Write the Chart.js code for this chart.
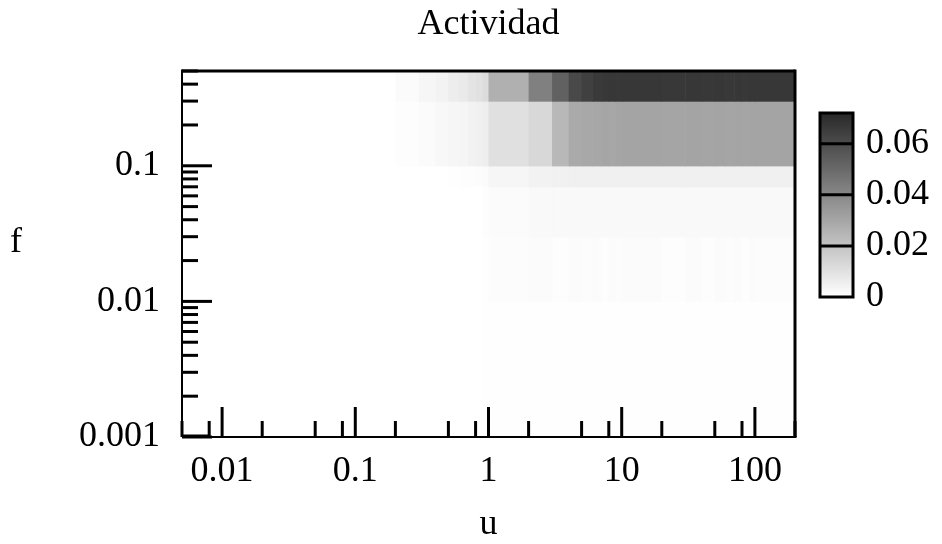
<!DOCTYPE html>
<html>
<head>
<meta charset="utf-8">
<title>Actividad</title>
<script src="https://cdn.jsdelivr.net/npm/chart.js@4.4.1/dist/chart.umd.min.js"></script>
<style>
  html, body { margin: 0; padding: 0; background: #fff; }
  #wrap { width: 942px; height: 544px; }
</style>
</head>
<body>
<div id="wrap"><canvas id="actividad"></canvas></div>
<script>
// cell edges along u (x) and f (y)
const uEdges = [
    0.005, 0.01, 0.02, 0.03, 0.04, 0.05, 0.06, 0.07, 0.08, 0.09,
    0.1, 0.2, 0.3, 0.4, 0.5, 0.6, 0.7, 0.8, 0.9,
    1, 2, 3, 4, 5, 6, 7, 8, 9,
    10, 20, 30, 40, 50, 60, 70, 80, 90,
    100, 200
];
const fEdges = [0.001, 0.01, 0.03, 0.07, 0.1, 0.3, 0.5];

// actividad per row (f band, bottom to top), one value per u cell
const rowF0 = [0,0,0,0,0,0,0,0,0,0, 0,0,0,0,0,0,0,0,0.0003,
    0.0005,0.0005,0.0005,0.0005,0.0005,0.0005,0.0005,0.0005,0.0005,
    0.0005,0.0005,0.0005,0.0005,0.0005,0.0005,0.0005,0.0005,0.0005, 0.0005];
const rowF1 = [0,0,0,0,0,0,0,0,0,0, 0,0,0,0,0,0,0,0,0.0004,
    0.0009,0.0012,0.0008,0.0012,0.0009,0.0012,0.0008,0.0012,0.0009,
    0.0012,0.0008,0.0012,0.0008,0.0012,0.0009,0.0012,0.0008,0.0012, 0.0009];
const rowF2 = [0,0,0,0,0,0,0,0,0,0, 0,0,0,0,0,0,0,0,0.0006,
    0.0015,0.002,0.002,0.002,0.002,0.002,0.002,0.002,0.002,
    0.002,0.002,0.002,0.002,0.002,0.002,0.002,0.002,0.002, 0.002];
const rowF3 = [0,0,0,0,0,0,0,0,0,0, 0,0,0,0,0.0004,0.0006,0.0008,0.001,0.0012,
    0.003,0.0045,0.0048,0.005,0.005,0.005,0.005,0.005,0.005,
    0.005,0.005,0.005,0.005,0.005,0.005,0.005,0.005,0.005, 0.005];
const rowF4 = [0,0,0,0,0,0,0,0,0,0, 0,0.0007,0.0015,0.0025,0.003,0.0035,0.0045,0.005,0.0057,
    0.0104,0.013,0.0238,0.0285,0.029,0.0295,0.03,0.0295,0.03,
    0.0305,0.03,0.0305,0.03,0.0305,0.03,0.0305,0.03,0.0305, 0.0305];
const rowF5 = [0,0,0,0,0,0,0,0,0,0, 0,0.0015,0.003,0.004,0.006,0.007,0.009,0.01,0.0117,
    0.0265,0.0425,0.053,0.061,0.064,0.066,0.0665,0.067,0.0665,
    0.067,0.0668,0.067,0.0665,0.067,0.0668,0.067,0.0665,0.067, 0.067];
const actividad = [rowF0, rowF1, rowF2, rowF3, rowF4, rowF5];

const uTicks = [0.01, 0.1, 1, 10, 100];
const fTicks = [0.001, 0.01, 0.1];
const barTicks = [0, 0.02, 0.04, 0.06];
const barMax = 0.072;

// layout
const FONT = "'Liberation Serif', 'Times New Roman', serif";
const FONT_SIZE = 36;
const CB = { left: 820, right: 853, top: 113, bottom: 297 };
const AREA = { left: 182, right: 795, top: 71, bottom: 437 };

const gray = v => {
    const g = Math.round(255 - Math.min(v, barMax) / barMax * 215);
    return `rgb(${g},${g},${g})`;
};

const cells = [];
actividad.forEach((row, r) => row.forEach((v, c) => cells.push({
    x: Math.sqrt(uEdges[c] * uEdges[c + 1]),
    y: Math.sqrt(fEdges[r] * fEdges[r + 1]),
    u0: uEdges[c], u1: uEdges[c + 1], f0: fEdges[r], f1: fEdges[r + 1], v
})));

const heatmapCells = {
    id: 'heatmapCells',
    beforeDatasetsDraw(chart) {
        const { ctx, scales: { x, y }, chartArea: a } = chart;
        ctx.save();
        ctx.beginPath();
        ctx.rect(a.left, a.top, a.right - a.left, a.bottom - a.top);
        ctx.clip();
        chart.data.datasets[0].data.forEach(d => {
            if (!d.v) return;
            const l = x.getPixelForValue(d.u0), r = x.getPixelForValue(d.u1);
            const t = y.getPixelForValue(d.f1), b = y.getPixelForValue(d.f0);
            ctx.fillStyle = gray(d.v);
            ctx.fillRect(l, t, r - l + 0.6, b - t + 0.6);
        });
        ctx.restore();
    }
};

const frameTicks = {
    id: 'frameTicks',
    afterDatasetsDraw(chart) {
        const { ctx, scales: { x, y, cb }, chartArea: a } = chart;
        const line = (x0, y0, x1, y1, w) => {
            ctx.lineWidth = w;
            ctx.beginPath(); ctx.moveTo(x0, y0); ctx.lineTo(x1, y1); ctx.stroke();
        };
        ctx.save();
        ctx.strokeStyle = '#000';

        // inward ticks, log minors
        [0.001, 0.01, 0.1].forEach(d => {
            for (let k = 1; k <= 9; k++) {
                const v = k * d;
                if (v < y.min || v > y.max) continue;
                const py = y.getPixelForValue(v);
                line(a.left, py, a.left + (k === 1 ? 30 : 16), py, 3);
            }
        });
        [0.001, 0.01, 0.1, 1, 10, 100].forEach(d => {
            [1, 2, 5, 8].forEach(k => {
                const v = k * d;
                if (v < x.min || v > x.max) return;
                const px = x.getPixelForValue(v);
                line(px, a.bottom, px, a.bottom - (k === 1 ? 30 : 16), 3);
            });
        });

        // frame
        line(a.left, a.top, a.right, a.top, 3);
        line(a.right, a.top - 1.5, a.right, a.bottom, 3);
        line(a.left, a.top - 1.5, a.left, a.bottom, 2);
        line(a.left, a.bottom, a.right + 1.5, a.bottom, 2);
        line(a.left, a.bottom - 1, a.left + 28, a.bottom - 1, 3);

        // colour bar
        const top = cb.getPixelForValue(barMax), bottom = cb.getPixelForValue(0);
        const grad = ctx.createLinearGradient(0, bottom, 0, top);
        for (let i = 0; i <= 10; i++) grad.addColorStop(i / 10, gray(barMax * i / 10));
        ctx.fillStyle = grad;
        ctx.fillRect(CB.left, top, CB.right - CB.left, bottom - top);
        barTicks.slice(1).forEach(v => {
            const py = cb.getPixelForValue(v);
            line(CB.left, py, CB.right, py, 3);
        });
        ctx.lineWidth = 3;
        ctx.strokeRect(CB.left, top, CB.right - CB.left, bottom - top);

        // title and f label
        ctx.fillStyle = '#000';
        ctx.font = `${FONT_SIZE}px ${FONT}`;
        ctx.textAlign = 'center';
        ctx.textBaseline = 'middle';
        ctx.fillText('Actividad', (a.left + a.right) / 2, 25);
        ctx.fillText('f', 16, 243);
        ctx.restore();
    }
};

const tickFont = { family: FONT, size: FONT_SIZE };
const fmt = v => String(v);
const noPadV = s => { s.paddingTop = 0; s.paddingBottom = 0; };

new Chart(document.getElementById('actividad'), {
    type: 'scatter',
    data: {
        datasets: [{
            label: 'Actividad',
            data: cells,
            pointRadius: 0,
            pointHoverRadius: 0
        }]
    },
    options: {
        responsive: true,
        maintainAspectRatio: false,
        animation: false,
        devicePixelRatio: 1,
        layout: { padding: { top: AREA.top, left: 0, right: 0, bottom: 0 } },
        plugins: { legend: { display: false }, title: { display: false }, tooltip: { enabled: false } },
        scales: {
            x: {
                type: 'logarithmic',
                position: 'bottom',
                min: 0.005,
                max: 200,
                grid: { display: false },
                border: { display: false },
                ticks: { font: tickFont, color: '#000', padding: 5, maxRotation: 0, autoSkip: false, callback: fmt },
                afterBuildTicks: s => { s.ticks = uTicks.map(value => ({ value })); },
                afterFit: s => { s.height = 544 - AREA.bottom; s.paddingLeft = 0; s.paddingRight = 0; },
                title: { display: true, text: 'u', font: tickFont, color: '#000', padding: { top: 0, bottom: -2 } }
            },
            y: {
                type: 'logarithmic',
                position: 'left',
                min: 0.001,
                max: 0.5,
                grid: { display: false },
                border: { display: false },
                ticks: { font: tickFont, color: '#000', padding: 14, autoSkip: false, callback: fmt },
                afterBuildTicks: s => { s.ticks = fTicks.map(value => ({ value })); },
                afterFit: s => { s.width = AREA.left; noPadV(s); }
            },
            cb: {
                type: 'linear',
                position: 'right',
                min: -barMax * (AREA.bottom - CB.bottom) / (CB.bottom - CB.top),
                max: barMax + barMax * (CB.top - AREA.top) / (CB.bottom - CB.top),
                grid: { display: false },
                border: { display: false },
                ticks: { font: tickFont, color: '#000', padding: 63, autoSkip: false,
                    callback: v => v === 0 ? '0' : v.toFixed(2) },
                afterBuildTicks: s => { s.ticks = barTicks.map(value => ({ value })); },
                afterFit: s => { s.width = 942 - AREA.right; noPadV(s); }
            }
        }
    },
    plugins: [heatmapCells, frameTicks]
});
</script>
</body>
</html>
